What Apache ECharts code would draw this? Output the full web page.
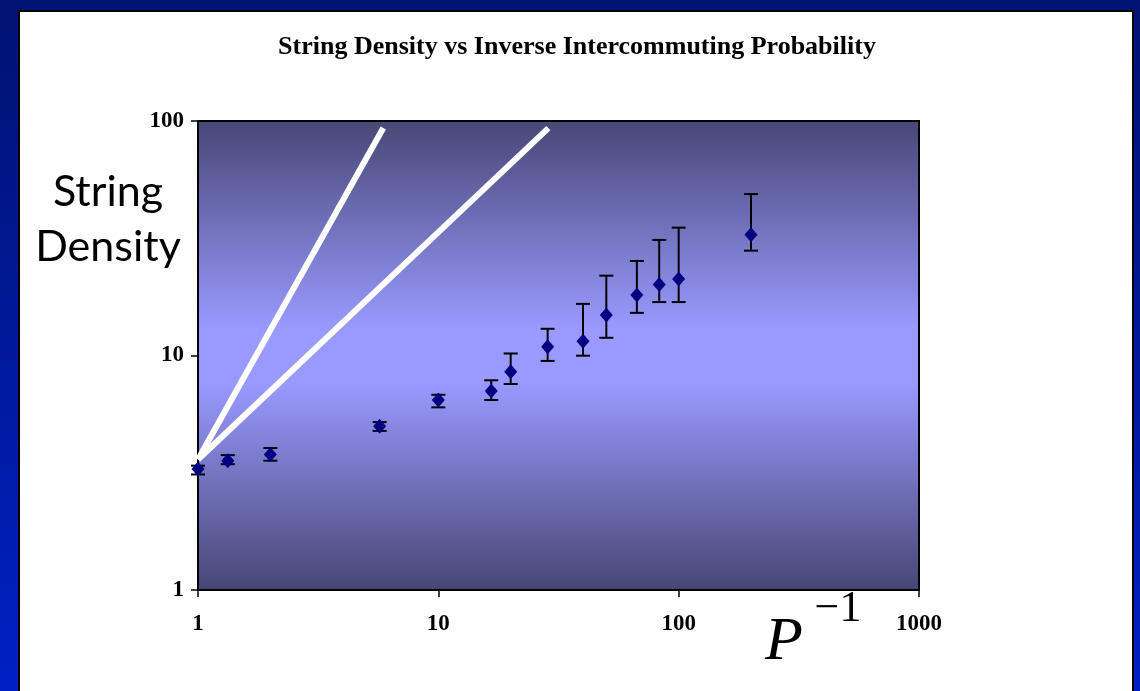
<!DOCTYPE html>
<html>
<head>
<meta charset="utf-8">
<script src="https://cdn.jsdelivr.net/npm/echarts@6/dist/echarts.min.js"></script>
<style>
html,body{margin:0;padding:0;width:1140px;height:691px;overflow:hidden;}
#chart{width:1140px;height:691px;}
</style>
</head>
<body>
<div id="chart"></div>
<script>
// ---- data ----
const pInv     = [1, 1.33, 2, 5.7, 10, 16.6, 20, 28.5, 40, 50, 67, 83, 100, 200];
const density  = [3.28, 3.56, 3.78, 4.99, 6.46, 7.06, 8.53, 10.9, 11.5, 14.9, 18.1, 20.1, 21.2, 32.7];
const errHigh  = [3.39, 3.76, 4.03, 5.2, 6.8, 7.84, 10.2, 13.0, 16.6, 21.9, 25.3, 31.1, 35.1, 48.8];
const errLow   = [3.11, 3.44, 3.56, 4.77, 6.01, 6.46, 7.56, 9.48, 9.98, 11.9, 15.2, 16.9, 16.9, 28.0];
const steepLineX = [1, 5.9];
const steepLineY = [3.6, 93.3];
const linearLineX = [1, 28.7];
const linearLineY = [3.6, 93.3];
const titleText = 'String Density vs Inverse Intercommuting Probability';
const yTitle = 'String\nDensity';

const chart = echarts.init(document.getElementById('chart'), null, {renderer: 'canvas'});

const pointData = pInv.map((x, i) => [x, density[i]]);
const errData = pInv.map((x, i) => [x, errLow[i], errHigh[i]]);

const option = {
  animation: false,
  backgroundColor: {
    type: 'linear', x: 0, y: 0, x2: 0, y2: 1,
    colorStops: [{offset: 0, color: '#001272'}, {offset: 1, color: '#0020c4'}]
  },
  graphic: [
    {type: 'rect', z: -10, shape: {x: 19, y: 11, width: 1114, height: 700},
     style: {fill: '#ffffff', stroke: '#000000', lineWidth: 2}},
    {type: 'text', z: 10, x: 577, y: 47,
     style: {text: titleText, fill: '#000', font: 'bold 26px "Liberation Serif"', align: 'center', verticalAlign: 'middle'}},
    {type: 'text', z: 10, x: 108, y: 220,
     style: {text: yTitle, fill: '#000', font: '43px Lato', lineHeight: 55, align: 'center', verticalAlign: 'middle'}},
    {type: 'text', z: 10, x: 784, y: 643,
     style: {text: 'P', fill: '#000', font: 'italic 62px "Liberation Serif"', align: 'center', verticalAlign: 'middle'}},
    {type: 'text', z: 10, x: 838, y: 609,
     style: {text: '\u22121', fill: '#000', font: '44px "Liberation Serif"', align: 'center', verticalAlign: 'middle'}}
  ],
  grid: {
    left: 198, top: 121, right: 221, bottom: 101,
    show: true,
    borderColor: '#000', borderWidth: 2,
    backgroundColor: {
      type: 'linear', x: 0, y: 0, x2: 0, y2: 1,
      colorStops: [
        {offset: 0, color: '#474776'},
        {offset: 0.44, color: '#9999ff'},
        {offset: 0.56, color: '#9999ff'},
        {offset: 1, color: '#464673'}
      ]
    }
  },
  xAxis: {
    type: 'log', logBase: 10, min: 1, max: 1000,
    axisLine: {show: true, lineStyle: {color: '#000', width: 2}},
    axisTick: {show: true, inside: false, length: 7, lineStyle: {color: '#000', width: 1.5}},
    minorTick: {show: false},
    splitLine: {show: false},
    axisLabel: {color: '#000', fontFamily: 'Liberation Serif', fontWeight: 'bold', fontSize: 23, margin: 23,
                formatter: function (v) { return String(Math.round(v)); }}
  },
  yAxis: {
    type: 'log', logBase: 10, min: 1, max: 100,
    axisLine: {show: true, lineStyle: {color: '#000', width: 2}},
    axisTick: {show: true, inside: false, length: 7, lineStyle: {color: '#000', width: 1.5}},
    minorTick: {show: false},
    splitLine: {show: false},
    axisLabel: {color: '#000', fontFamily: 'Liberation Serif', fontWeight: 'bold', fontSize: 23, margin: 14,
                formatter: function (v) { return String(Math.round(v)); }}
  },
  series: [
    {
      type: 'line', data: steepLineX.map((x, i) => [x, steepLineY[i]]),
      symbol: 'none', z: 1,
      lineStyle: {color: '#ffffff', width: 6, cap: 'butt'}
    },
    {
      type: 'line', data: linearLineX.map((x, i) => [x, linearLineY[i]]),
      symbol: 'none', z: 1,
      lineStyle: {color: '#ffffff', width: 6, cap: 'butt'}
    },
    {
      type: 'custom', z: 3,
      data: errData,
      renderItem: function (params, api) {
        const lo = api.coord([api.value(0), api.value(1)]);
        const hi = api.coord([api.value(0), api.value(2)]);
        const hw = 7;
        const st = {stroke: '#000', lineWidth: 2};
        return {
          type: 'group',
          children: [
            {type: 'line', shape: {x1: lo[0], y1: lo[1], x2: hi[0], y2: hi[1]}, style: st},
            {type: 'line', shape: {x1: lo[0] - hw, y1: lo[1], x2: lo[0] + hw, y2: lo[1]}, style: st},
            {type: 'line', shape: {x1: hi[0] - hw, y1: hi[1], x2: hi[0] + hw, y2: hi[1]}, style: st}
          ]
        };
      }
    },
    {
      type: 'scatter', z: 4,
      data: pointData,
      symbol: 'diamond', symbolSize: [13, 15],
      itemStyle: {color: '#000080', opacity: 1}
    }
  ]
};
chart.setOption(option);
</script>
</body>
</html>
